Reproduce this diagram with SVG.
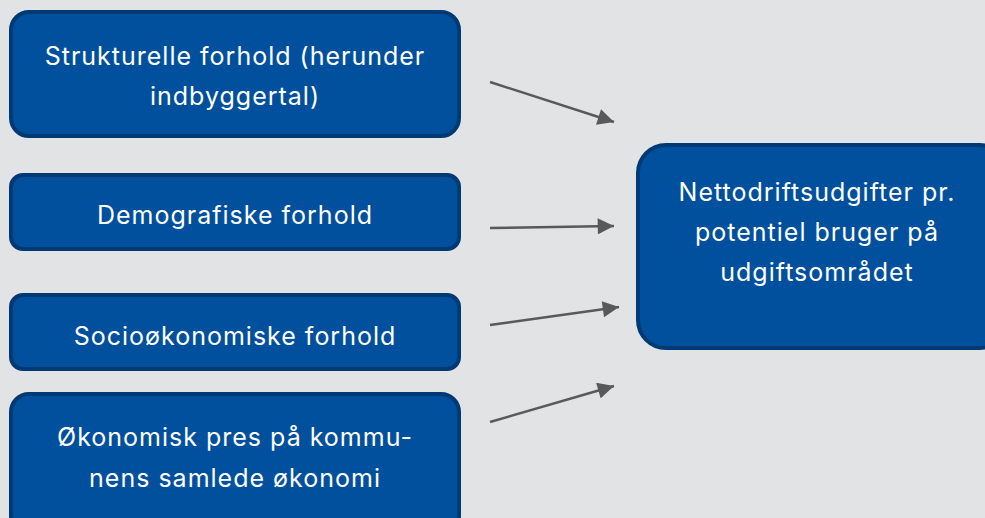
<svg xmlns="http://www.w3.org/2000/svg" width="985" height="518" viewBox="0 0 985 518">
<defs>
<marker id="ah" viewBox="0 0 10 10" refX="10" refY="5" markerWidth="7" markerHeight="6.5" markerUnits="strokeWidth" orient="auto">
<path d="M0,0 L10,5 L0,10 z" fill="#595959"/>
</marker>
<style>
.box{fill:#00509d;stroke:#003a75;stroke-width:4}
.t{font-family:Inter,"Noto Sans",sans-serif;font-size:25px;letter-spacing:1px;fill:#ffffff;text-anchor:middle}
.c{stroke:#595959;stroke-width:2.5;fill:none;marker-end:url(#ah)}
</style>
</defs>
<rect width="985" height="518" fill="#e2e3e5"/>
<g id="n1">
<rect class="box" x="11" y="12" width="448" height="124" rx="18"/>
<text class="t" x="235" y="65">Strukturelle forhold (herunder</text>
<text class="t" x="235" y="105">indbyggertal)</text>
</g>
<g id="n2">
<rect class="box" x="11" y="175" width="448" height="74" rx="12"/>
<text class="t" x="235" y="224">Demografiske forhold</text>
</g>
<g id="n3">
<rect class="box" x="11" y="295" width="448" height="74" rx="12"/>
<text class="t" x="235" y="345">Socioøkonomiske forhold</text>
</g>
<g id="n4">
<rect class="box" x="11" y="394" width="448" height="140" rx="18"/>
<text class="t" x="235" y="446">Økonomisk pres på kommu-</text>
<text class="t" x="235" y="487">nens samlede økonomi</text>
</g>
<g id="n5">
<rect class="box" x="638" y="145" width="370" height="203" rx="28"/>
<text class="t" x="817" y="201">Nettodriftsudgifter pr.</text>
<text class="t" x="817" y="241">potentiel bruger på</text>
<text class="t" x="817" y="281">udgiftsområdet</text>
</g>
<g id="connectors">
<line class="c" x1="490" y1="82" x2="614" y2="122"/>
<line class="c" x1="490" y1="228" x2="614" y2="226"/>
<line class="c" x1="490" y1="325" x2="619" y2="307"/>
<line class="c" x1="490" y1="422" x2="614" y2="386"/>
</g>
</svg>
